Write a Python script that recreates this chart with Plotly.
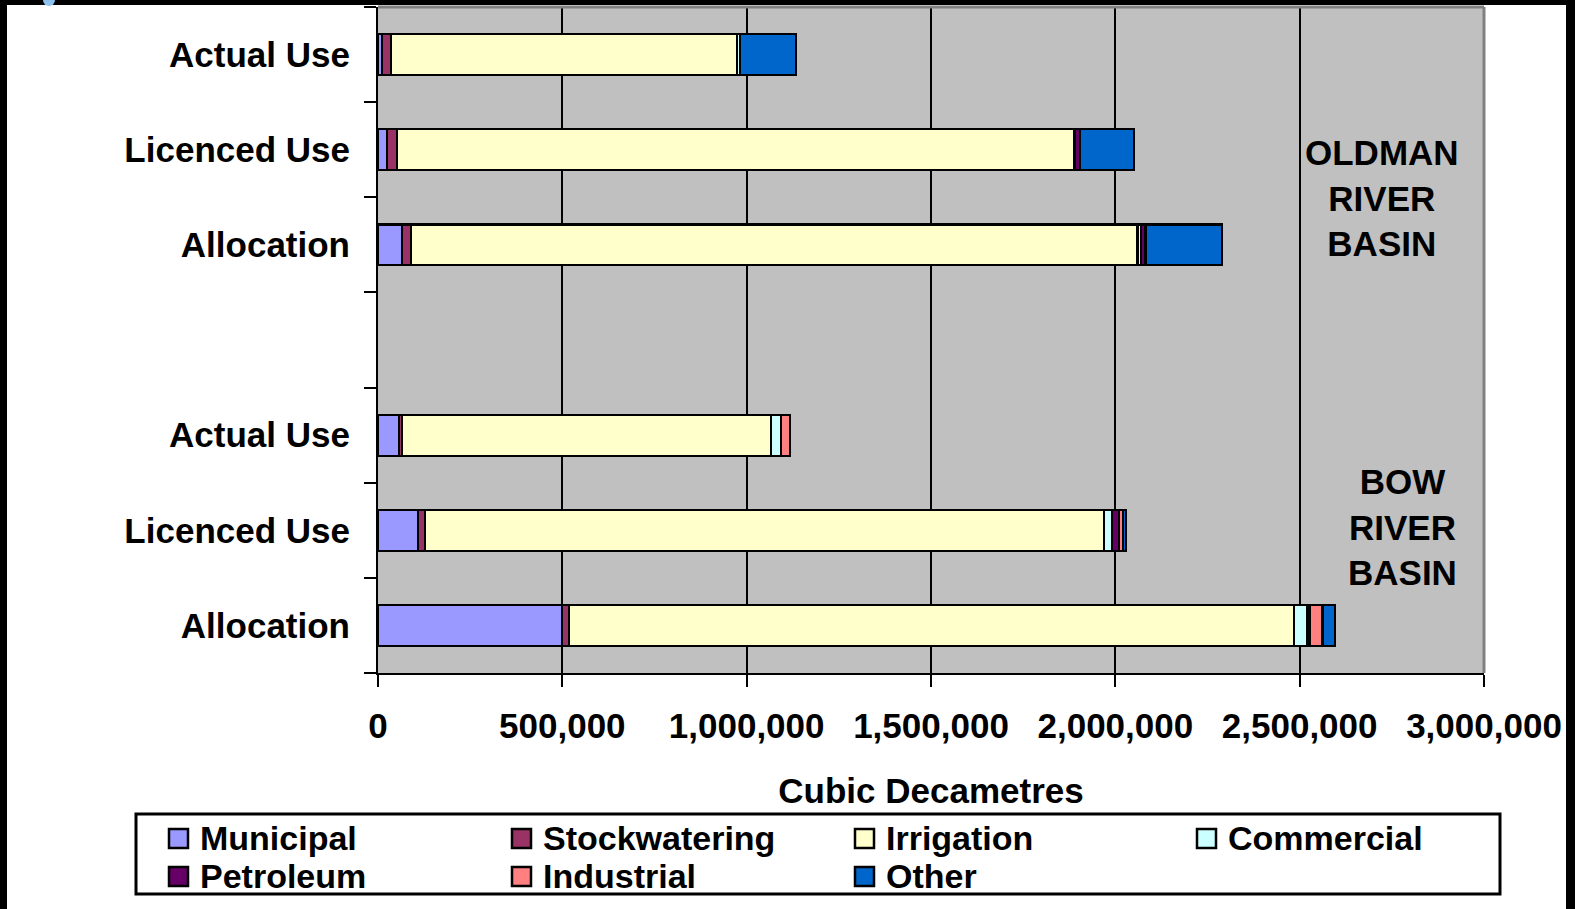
import plotly.graph_objects as go

# ---- data (rows bottom -> top; index 3 is the empty gap row) ----
row_labels = ["Allocation", "Licenced Use", "Actual Use", "", "Allocation", "Licenced Use", "Actual Use"]
series_names = ["Municipal", "Stockwatering", "Irrigation", "Commercial", "Petroleum", "Industrial", "Other"]
municipal     = [498000, 109000,   57000, None,   66000,   25000,  11000]
stockwatering = [ 21000,  18000,    8000, None,   24000,   27000,  25000]
irrigation    = [1966000, 1843000, 1001000, None, 1970000, 1837000, 938000]
commercial    = [ 36000,  21000,   28000, None,   10000,       0,   7000]
petroleum     = [  8000,  18000,       0, None,   12000,   15000,      0]
industrial    = [ 33000,  12000,   24000, None,       0,       0,      0]
other         = [ 33000,   8000,       0, None,  208000,  147000, 152000]
series_values = [municipal, stockwatering, irrigation, commercial, petroleum, industrial, other]
colors = ["#9999FF", "#993366", "#FFFFCC", "#CCFFFF", "#660066", "#FF8080", "#0066CC"]
x_ticks = [0, 500000, 1000000, 1500000, 2000000, 2500000, 3000000]
x_title = "Cubic Decametres"
basin_labels = ["OLDMAN<br>RIVER<br>BASIN", "BOW<br>RIVER<br>BASIN"]

# ---- layout geometry (pixels) ----
W, H = 1575, 909
L, R_EDGE, T, B_EDGE = 378, 1484, 7, 673
PW, PH = R_EDGE - L, B_EDGE - T
FONT = "Liberation Sans, Arial, sans-serif"
FS = 35
LEG_FS = 34

def xp(px):
    return (px - L) / PW

def yp(py):
    return (B_EDGE - py) / PH

ypos = list(range(len(row_labels)))

fig = go.Figure()
for name, vals, col in zip(series_names, series_values, colors):
    fig.add_trace(go.Bar(
        y=ypos, x=vals, name=name, orientation="h",
        marker=dict(color=col, line=dict(color="black", width=2.2)),
        width=0.43, showlegend=False,
    ))

tv = [i for i, t in enumerate(row_labels) if t]
tt = [row_labels[i] for i in tv]

fig.update_layout(
    width=W, height=H,
    margin=dict(l=L, r=W - R_EDGE, t=T, b=H - B_EDGE, pad=0),
    barmode="stack",
    plot_bgcolor="#C0C0C0", paper_bgcolor="white",
    font=dict(family=FONT, size=FS, color="black", weight="bold"),
    xaxis=dict(
        range=[0, 3000000], tickmode="array", tickvals=x_ticks,
        tickformat=",d", showgrid=True, gridcolor="black", gridwidth=2,
        zeroline=False, showline=True, linecolor="black", linewidth=2,
        ticks="outside", ticklen=12, tickwidth=2, tickcolor="black",
        tickfont=dict(family=FONT, size=FS, weight="bold"),
        ticklabelstandoff=9,
        title=dict(text=x_title, font=dict(family=FONT, size=FS, weight="bold"), standoff=34),
    ),
    yaxis=dict(
        range=[-0.5, 6.5], tickmode="array", tickvals=tv, ticktext=tt,
        showgrid=False, zeroline=False, showline=True, linecolor="black", linewidth=2,
        ticks="", tickfont=dict(family=FONT, size=FS, weight="bold"),
        ticklabelstandoff=19,
        minor=dict(ticks="outside", tickmode="array",
                   tickvals=[i - 0.5 for i in range(len(row_labels) + 1)],
                   ticklen=12, tickwidth=2, tickcolor="black", showgrid=False),
    ),
)

shapes = []
# plot area border (top & right, grey)
shapes.append(dict(type="line", xref="paper", yref="paper", x0=0, x1=1, y0=1, y1=1,
                   line=dict(color="#808080", width=3), layer="above"))
shapes.append(dict(type="line", xref="paper", yref="paper", x0=1, x1=1, y0=0, y1=1,
                   line=dict(color="#808080", width=3), layer="above"))
# black frame strips around the image
for (x0, x1, y0, y1) in [(0, W, 0, 5), (0, 7, 0, H), (1566, W, 0, H)]:
    shapes.append(dict(type="rect", xref="paper", yref="paper",
                       x0=xp(x0), x1=xp(x1), y0=yp(y1), y1=yp(y0),
                       fillcolor="black", line=dict(width=0), layer="above"))
# small blue dot at top-left
shapes.append(dict(type="circle", xref="paper", yref="paper",
                   x0=xp(43), x1=xp(55), y0=yp(6), y1=yp(-6),
                   fillcolor="#8EC0F0", line=dict(width=0), layer="above"))

# manual legend
LEG_X0, LEG_X1, LEG_Y0, LEG_Y1 = 136, 1500, 814, 894
shapes.append(dict(type="rect", xref="paper", yref="paper",
                   x0=xp(LEG_X0), x1=xp(LEG_X1), y0=yp(LEG_Y1), y1=yp(LEG_Y0),
                   line=dict(color="black", width=3), fillcolor="white", layer="above"))
annotations = []
col_x = [169, 512, 855, 1197]
row_y = [838, 876]
for i, (name, col) in enumerate(zip(series_names, colors)):
    cx = col_x[i % 4]
    cy = row_y[i // 4]
    shapes.append(dict(type="rect", xref="paper", yref="paper",
                       x0=xp(cx), x1=xp(cx + 19), y0=yp(cy + 10), y1=yp(cy - 9),
                       fillcolor=col, line=dict(color="black", width=2.5), layer="above"))
    annotations.append(dict(xref="paper", yref="paper", x=xp(cx + 30), y=yp(cy),
                            xanchor="left", yanchor="middle", text=name, showarrow=False,
                            borderpad=0,
                            font=dict(family=FONT, size=LEG_FS, weight="bold", color="black")))

# basin labels
annotations.append(dict(xref="paper", yref="paper", x=xp(1382), y=yp(198), text=basin_labels[0],
                        showarrow=False, xanchor="center", yanchor="middle", align="center",
                        font=dict(family=FONT, size=FS, weight="bold", color="black")))
annotations.append(dict(xref="paper", yref="paper", x=xp(1402), y=yp(527), text=basin_labels[1],
                        showarrow=False, xanchor="center", yanchor="middle", align="center",
                        font=dict(family=FONT, size=FS, weight="bold", color="black")))

fig.update_layout(shapes=shapes, annotations=annotations)
fig.write_html("out.html")
